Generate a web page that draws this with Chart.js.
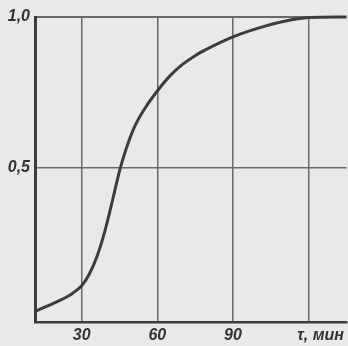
<!DOCTYPE html>
<html lang="ru">
<head>
    <meta charset="UTF-8">
    <title>Кривая</title>
    <style>
        body {
            margin: 0;
            background: #e9e9e7;
        }
        #wrap {
            width: 348px;
            height: 346px;
        }
    </style>
    <script src="https://cdn.jsdelivr.net/npm/chart.js"></script>
</head>
<body>
    <div id="wrap"><canvas id="curveChart" width="348" height="346"></canvas></div>

    <script>
        // values
        const times = [11.8, 17, 22, 26, 30, 33, 36, 38.5, 41, 43, 45, 47.5, 51, 55.5, 60, 65, 70, 75, 80, 90, 100, 110, 120, 135];
        const fractions = [0.026, 0.045, 0.064, 0.083, 0.11, 0.148, 0.205, 0.27, 0.35, 0.42, 0.49, 0.56, 0.637, 0.703, 0.755, 0.805, 0.843, 0.872, 0.895, 0.934, 0.963, 0.985, 0.998, 1.0];
        const xTicks = [30, 60, 90, 120];
        const yTicks = [0.5, 1.0];
        const yTickLabels = ['0,5', '1,0'];
        const xUnitLabel = '\u2002\u2002\u2002τ, мин';

        const ink = '#3c3c3c';
        const gridInk = '#686868';
        const labelFont = { family: '"Liberation Sans Narrow", "Liberation Sans", sans-serif', size: 16, style: 'italic', weight: 'bold' };

        const points = times.map((t, i) => ({ x: t, y: fractions[i] }));

        const ctx = document.getElementById('curveChart').getContext('2d');
        new Chart(ctx, {
            type: 'line',
            data: {
                datasets: [{
                    data: points,
                    borderColor: ink,
                    borderWidth: 3,
                    pointRadius: 0,
                    cubicInterpolationMode: 'monotone',
                    clip: 4
                }]
            },
            options: {
                responsive: false,
                animation: false,
                layout: { padding: { top: 17, right: 0, left: 0, bottom: 0 } },
                plugins: {
                    legend: { display: false },
                    tooltip: { enabled: false }
                },
                scales: {
                    x: {
                        type: 'linear',
                        min: 11.5,
                        max: 135,
                        afterBuildTicks: (scale) => {
                            scale.ticks = xTicks.map(v => ({ value: v }));
                        },
                        afterFit: (scale) => { scale.height = 24; },
                        grid: { color: gridInk, lineWidth: 1.5, drawTicks: false },
                        border: { color: ink, width: 2.5 },
                        ticks: {
                            color: '#333',
                            font: labelFont,
                            padding: 4,
                            maxRotation: 0,
                            autoSkip: false,
                            callback: (v) => v === 120 ? xUnitLabel : String(v)
                        }
                    },
                    y: {
                        type: 'linear',
                        min: -0.01,
                        max: 1.0,
                        afterBuildTicks: (scale) => {
                            scale.ticks = yTicks.map(v => ({ value: v }));
                        },
                        afterFit: (scale) => { scale.width = 35; },
                        grid: { color: gridInk, lineWidth: (c) => c.tick && c.tick.value === 1 ? 2 : 1.5, drawTicks: false },
                        border: { color: ink, width: 3 },
                        ticks: {
                            color: '#333',
                            font: labelFont,
                            padding: 5,
                            autoSkip: false,
                            callback: (v) => yTickLabels[yTicks.indexOf(v)]
                        }
                    }
                }
            }
        });
    </script>
</body>
</html>
